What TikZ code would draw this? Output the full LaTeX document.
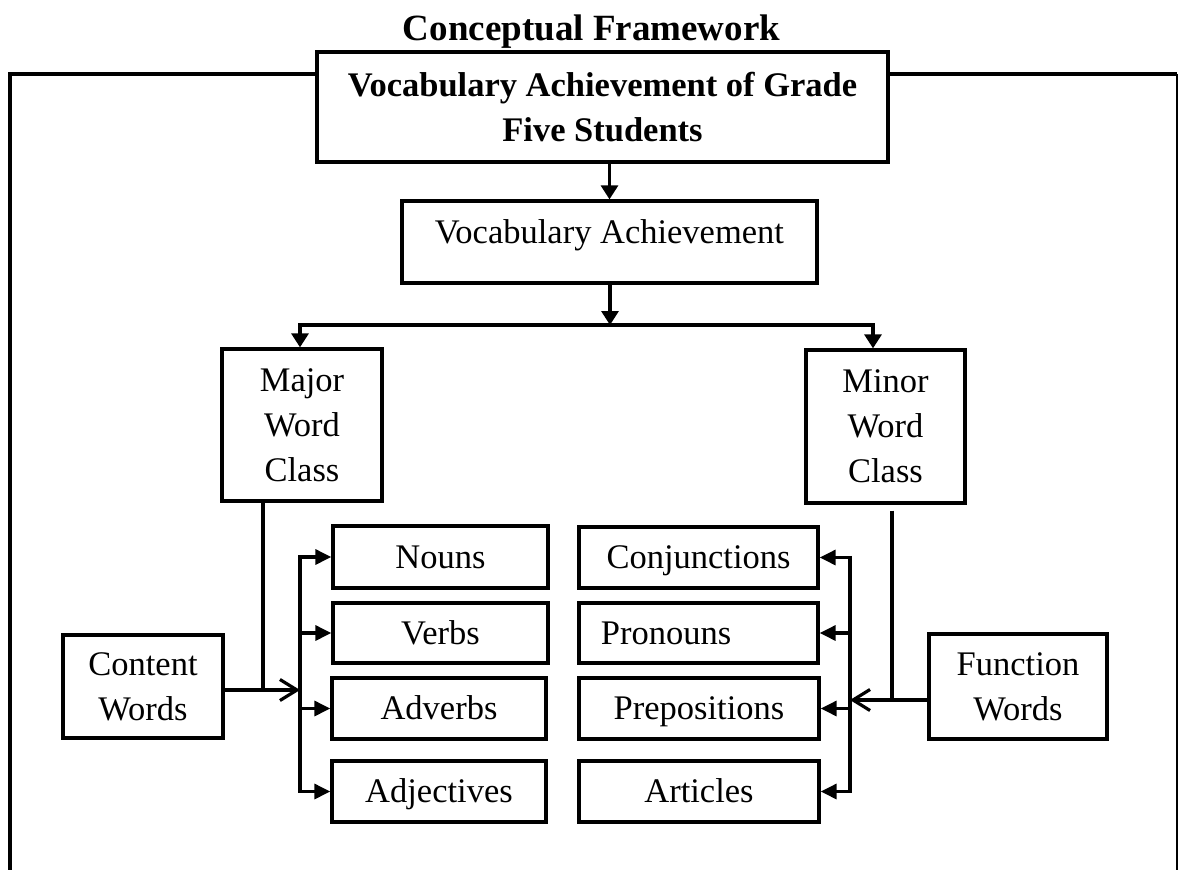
\documentclass[tikz,border=0pt]{standalone}
\usepackage{fontspec}
\setmainfont{Liberation Serif}
\usetikzlibrary{arrows.meta}
\tikzset{
  box/.style={draw, line width=3.3pt, inner sep=0pt, align=center,
    font=\fontsize{34.5pt}{45pt}\selectfont},
  onebox/.style={box, text height=22pt, text depth=0pt},
  conn/.style={line width=3.2pt},
  dn/.style={conn, -{Triangle[length=14pt,width=17pt]}},
  tri/.style={conn, -{Triangle[length=16pt,width=15pt]}},
  opentip/.style={conn, -{Straight Barb[length=17pt,width=21pt]}},
}
\begin{document}
\begin{tikzpicture}[x=1pt,y=-1pt]
\useasboundingbox (0,0) rectangle (1179,870);

% title
\node[anchor=base, inner sep=0pt, font=\fontsize{37pt}{45pt}\selectfont\bfseries] (title) at (591.5,40) {Conceptual Framework};

% boxes
\node[box, minimum width=571pt, minimum height=110pt, font=\fontsize{34.5pt}{45pt}\selectfont\bfseries] (top) at (602.5,107) {Vocabulary Achievement of Grade\\Five Students};
\node[onebox, minimum width=415pt, minimum height=82pt] (va) at (609.5,242) {\raisebox{10pt}{Vocabulary Achievement}};
\node[box, minimum width=160pt, minimum height=152pt] (major) at (302,425) {Major\\Word\\Class};
\node[box, minimum width=159pt, minimum height=153pt] (minor) at (885.5,426.5) {Minor\\Word\\Class};
\node[box, minimum width=160pt, minimum height=103pt] (content) at (143,686.5) {Content\\Words};
\node[box, minimum width=178pt, minimum height=105pt] (function) at (1018,686.5) {Function\\Words};

\node[onebox, minimum width=215pt, minimum height=62pt] (nouns) at (440.5,557) {Nouns};
\node[onebox, minimum width=215pt, minimum height=60pt] (verbs) at (440.5,633) {Verbs};
\node[onebox, minimum width=214pt, minimum height=61pt] (adverbs) at (439,708.5) {Adverbs};
\node[onebox, minimum width=214pt, minimum height=61pt] (adjectives) at (439,791.5) {Adjectives};

\node[onebox, minimum width=239pt, minimum height=61pt] (conj) at (698.5,557.5) {Conjunctions};
\node[onebox, minimum width=239pt, minimum height=60pt] (pron) at (698.5,633) {\hspace*{-65pt}Pronouns};
\node[onebox, minimum width=240pt, minimum height=61pt] (prep) at (699,708.5) {Prepositions};
\node[onebox, minimum width=240pt, minimum height=61pt] (art) at (699,791.5) {Articles};

% frame
\coordinate (ftl) at (10,74);
\coordinate (fbl) at (10,872);
\coordinate (ftr) at (1177,74);
\coordinate (fbr) at (1177,872);
\draw[conn] (fbl) -- (ftl) -- (ftl -| top.west);
\draw[conn] (top.east |- ftr) -- (ftr);
\draw[line width=2pt] (ftr) -- (fbr);

% top connectors
\coordinate (split) at (610,325);
\coordinate (sl) at (300,325);
\coordinate (sr) at (873,325);
\draw[dn] (top.south -| va.north) -- (va.north);
\draw[dn] (va.south -| split) -- (split);
\draw[dn] (split) -- (sl) -- (sl |- major.north);
\draw[dn] (split) -- (sr) -- (sr |- minor.north);

% left side
\coordinate (mj) at (263,690);
\coordinate (lb) at (300,690);
\draw[conn] (mj |- major.south) -- (mj);
\draw[opentip] (content.east |- mj) -- (lb);
\draw[conn] ([yshift=1.6pt]lb |- nouns.west) -- ([yshift=-1.6pt]lb |- adjectives.west);
\foreach \n in {nouns,verbs,adverbs,adjectives}
  \draw[tri] (lb |- \n.west) -- (\n.west);

% right side
\coordinate (mn) at (892,700);
\coordinate (rb) at (850,700);
\draw[conn] ([yshift=-6pt]mn |- minor.south) -- (mn);
\draw[opentip] (function.west |- mn) -- (rb);
\draw[conn] ([yshift=1.6pt]rb |- conj.east) -- ([yshift=-1.6pt]rb |- art.east);
\foreach \n in {conj,pron,prep,art}
  \draw[tri] (rb |- \n.east) -- (\n.east);
\end{tikzpicture}
\end{document}
